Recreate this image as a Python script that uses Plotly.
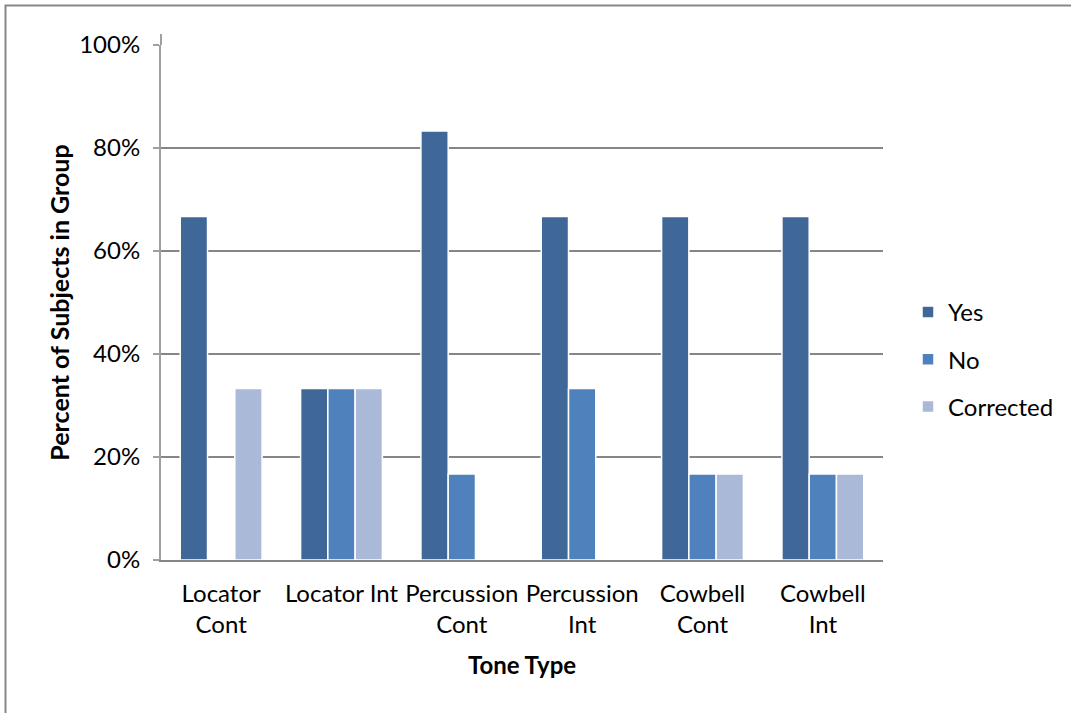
import plotly.graph_objects as go

# Tone types (with the line breaks used on the axis)
categories = ["Locator Cont", "Locator Int", "Percussion Cont",
              "Percussion Int", "Cowbell Cont", "Cowbell Int"]
tick_labels = ["Locator<br>Cont", "Locator Int", "Percussion<br>Cont",
               "Percussion<br>Int", "Cowbell<br>Cont", "Cowbell<br>Int"]

# Share of subjects per response (fraction of group)
yes_vals = [0.667, 0.333, 0.833, 0.667, 0.667, 0.667]
no_vals = [0.0, 0.333, 0.167, 0.333, 0.167, 0.167]
corrected_vals = [0.333, 0.333, 0.0, 0.0, 0.167, 0.167]

y_ticks = [0, 0.2, 0.4, 0.6, 0.8, 1.0]

series = [
    ("Yes", yes_vals, "#3F6899"),
    ("No", no_vals, "#4F81BD"),
    ("Corrected", corrected_vals, "#A9B9D7"),
]

FONT = "Lato, 'Open Sans', sans-serif"
FS = 24

fig = go.Figure()
for i, (name, vals, color) in enumerate(series):
    fig.add_trace(go.Bar(
        name=name,
        x=categories,
        y=vals,
        marker=dict(color=color, line=dict(color="white", width=1.5)),
        legendgroup=f"g{i}",
    ))

W, H = 1071, 713
L, R, T, B = 161, 188, 45, 153
pw, ph = W - L - R, H - T - B

def px_x(p):
    return (p - L) / pw

def px_y(p):
    return 1 - (p - T) / ph

fig.update_layout(
    width=W, height=H,
    margin=dict(l=L, r=R, t=T, b=B, autoexpand=False),
    paper_bgcolor="white",
    plot_bgcolor="white",
    barmode="group",
    bargap=0.32,
    bargroupgap=0,
    font=dict(family=FONT, size=FS, color="black"),
    showlegend=True,
    legend=dict(
        x=px_x(908), y=px_y(290), xanchor="left", yanchor="top",
        font=dict(family=FONT, size=FS, color="black"),
        tracegroupgap=13,
        itemwidth=30,
        bgcolor="rgba(0,0,0,0)",
    ),
    xaxis=dict(
        tickmode="array",
        tickvals=categories,
        ticktext=tick_labels,
        showline=True, linecolor="#868686", linewidth=2,
        ticks="", showgrid=False,
        ticklabelstandoff=11,
        tickfont=dict(family=FONT, size=FS, color="black"),
        title=dict(text="<b>Tone Type</b>", font=dict(family=FONT, size=FS),
                   standoff=20),
    ),
    yaxis=dict(
        range=[0, 1],
        tickvals=y_ticks,
        tickformat=".0%",
        showgrid=True, gridcolor="#868686", gridwidth=1.5,
        showline=True, linecolor="#A0A0A0", linewidth=2,
        ticks="outside", ticklen=6, tickcolor="#A0A0A0", tickwidth=2,
        ticklabelstandoff=8,
        zeroline=False,
        tickfont=dict(family=FONT, size=FS, color="black"),
        title=dict(text="<b>Percent of Subjects in Group</b>",
                   font=dict(family=FONT, size=25), standoff=2),
    ),
    shapes=[
        # chart frame, running off the right and bottom edges
        dict(type="rect", xref="paper", yref="paper",
             x0=px_x(5.5), x1=px_x(W + 20), y0=px_y(H + 20), y1=px_y(5.5),
             line=dict(color="#888888", width=2), fillcolor="rgba(0,0,0,0)",
             layer="above"),
        # short extension of the value axis above the top gridline
        dict(type="line", xref="paper", yref="paper",
             x0=0, x1=0, y0=1, y1=px_y(34),
             line=dict(color="#A0A0A0", width=2)),
    ],
)

fig.write_html("out.html")
